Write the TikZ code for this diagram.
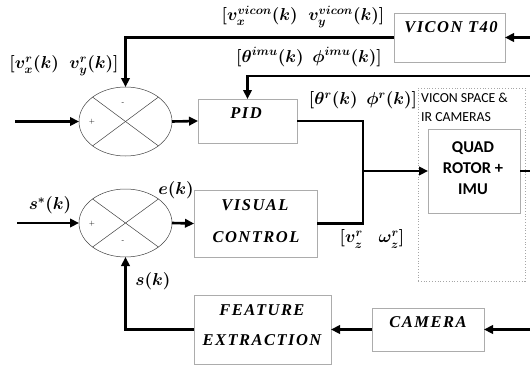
\documentclass[tikz,border=0pt]{standalone}
\usepackage{fontspec}
\usetikzlibrary{arrows.meta,calc,shapes.geometric}
\newfontfamily\calibri{Carlito}
\newfontfamily\boxserif[LetterSpace=9]{Liberation Serif}
\tikzset{
  box/.style={draw=gray!65, line width=0.8pt, inner sep=0pt, outer sep=0pt},
  sumnode/.style={ellipse, draw=black!75, line width=0.5pt, inner sep=0pt, outer sep=0pt, minimum width=93pt},
  xline/.style={draw=black!75, line width=0.5pt},
  wire/.style={line width=2.6pt},
  conn/.style={line width=2.6pt, -{Triangle[length=9pt,width=8.5pt]}},
  btext/.style={inner sep=0pt, font=\fontsize{16.5}{19}\selectfont\boxserif\bfseries\itshape},
  stext/.style={inner sep=0pt, font=\fontsize{16.5}{19}\selectfont\calibri\bfseries, align=center},
  smalls/.style={inner sep=0pt, anchor=base west, font=\fontsize{13.8}{16}\selectfont\calibri},
  mlabel/.style={inner sep=0pt, font=\fontsize{17.5}{20}\selectfont\boldmath},
  sign/.style={inner sep=0pt, font=\fontsize{7}{8}\selectfont},
}
\begin{document}
\begin{tikzpicture}[x=1pt,y=-1pt]
\useasboundingbox (0,0) rectangle (530,367);
% dotted region
\node[draw=gray!70, dotted, line width=0.8pt, minimum width=107pt, minimum height=193pt, inner sep=0pt] (space) at (471.5,184.5) {};
\node[smalls] (spacetxt1) at (421,102.5) {VICON SPACE \&};
\node[smalls] (spacetxt2) at (421,121) {IR CAMERAS};
% summing junctions
\node[sumnode, minimum height=69pt] (s1) at (125.5,121.5) {};
\node[sumnode, minimum height=68pt] (s2) at (125.5,223) {};
\draw[xline] ($(s1)+(-32.9,-24.4)$) -- ($(s1)+(32.9,24.4)$);
\draw[xline] ($(s1)+(-32.9,24.4)$) -- ($(s1)+(32.9,-24.4)$);
\draw[xline] ($(s2)+(-32.9,-24)$) -- ($(s2)+(32.9,24)$);
\draw[xline] ($(s2)+(-32.9,24)$) -- ($(s2)+(32.9,-24)$);
\node[sign] (s1m) at (123,104) {-};
\node[sign] (s1p) at (92,122) {+};
\node[sign] (s2p) at (92,223.5) {+};
\node[sign] (s2m) at (123,242) {-};
% blocks
\node[box, minimum width=99pt, minimum height=44pt] (pid) at (247.5,121) {};
\node[btext] (pidt) at (246,113) {PID};
\node[box, minimum width=123pt, minimum height=67pt] (vc) at (255.5,223.5) {};
\node[btext] (vct1) at (255,205) {VISUAL};
\node[btext] (vct2) at (256,237) {CONTROL};
\node[box, minimum width=137pt, minimum height=69pt] (fe) at (262.5,329.5) {};
\node[btext] (fet1) at (262,310) {FEATURE};
\node[btext] (fet2) at (262,340) {EXTRACTION};
\node[box, minimum width=112pt, minimum height=43pt] (cam) at (428,329.5) {};
\node[btext] (camt) at (428,322) {CAMERA};
\node[box, minimum width=111pt, minimum height=49pt] (vicon) at (449.5,37.5) {};
\node[btext] (vicont) at (451,27) {VICON T40};
\node[box, minimum width=92pt, minimum height=84pt] (quad) at (474,171) {};
\node[stext] (quadt) at (473,168.5) {QUAD\\[2pt]ROTOR +\\[2pt]IMU};
% free ends
\coordinate (inA) at (15,121.5);
\coordinate (inB) at (17,223);
\coordinate (rV) at (530,37.5);
\coordinate (rI) at (530,76);
\coordinate (rQ) at (530,171);
\coordinate (rC) at (530,329.5);
\coordinate (jn) at (363,171);
% connectors
\draw[conn] (rV) -- (vicon.east);
\draw[conn] (vicon.west) -| (s1.north);
\draw[conn] (rI) -| (pid.north);
\draw[conn] (inA) -- (s1.west);
\draw[conn] (s1.east) -- (pid.west);
\draw[wire, line join=miter] (pid.east) -| (jn);
\draw[wire, line join=miter] (vc.east) -| (jn);
\draw[conn] (jn) -- (quad.west);
\draw[wire] (quad.east) -- (rQ);
\draw[conn] (rC) -- (cam.east);
\draw[conn] (cam.west) -- (fe.east);
\draw[conn, line join=miter] (fe.west) -| (s2.south);
\draw[conn] (inB) -- (s2.west);
\draw[conn] (s2.east) -- (vc.west);
% signal labels
\node[mlabel] (lvicon) at (303,17) {$[v_x^{vicon}(k)\ \ v_y^{vicon}(k)]$};
\node[mlabel] (limu) at (309,57) {$[\theta^{imu}(k)\ \,\phi^{imu}(k)]$};
\node[mlabel] (lvr) at (64,66) {$[v_x^{r}(k)\ \ v_y^{r}(k)]$};
\node[mlabel] (lthr) at (363,100) {$[\theta^{r}(k)\ \,\phi^{r}(k)]$};
\node[mlabel] (le) at (176,190) {$e(k)$};
\node[mlabel] (lsstar) at (50,205) {$s^{*}(k)$};
\node[mlabel] (lvz) at (372,239) {$[v_z^{r}\ \ \ \omega_z^{r}]$};
\node[mlabel] (ls) at (153,281) {$s(k)$};
\end{tikzpicture}
\end{document}
